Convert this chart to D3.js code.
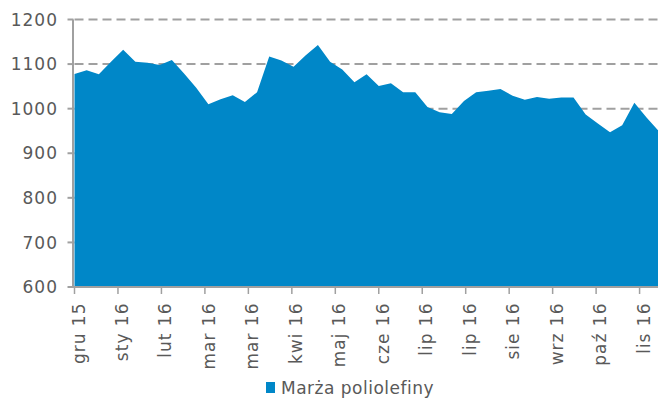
<!DOCTYPE html>
<html lang="pl">
<head>
    <meta charset="UTF-8">
    <title>Marża poliolefiny</title>
    <script src="https://cdnjs.cloudflare.com/ajax/libs/d3/7.8.5/d3.min.js"></script>
    <style>
        body {
            margin: 0;
            padding: 0;
            background-color: white;
        }
        svg {
            display: block;
            font-family: "DejaVu Sans", Verdana, sans-serif;
        }
        .tick-label {
            font-size: 17px;
            fill: #595959;
            letter-spacing: 1px;
        }
        .legend-label {
            font-size: 17px;
            fill: #595959;
            letter-spacing: 0.5px;
        }
    </style>
</head>
<body>
    <svg id="chart" width="658" height="401"></svg>

    <script>
        // weekly readings, day offset from the first tick (17 Dec 2015)
        const days = d3.range(0, 337, 7);
        const values = [
            1078, 1086, 1077, 1105, 1132, 1105, 1103, 1098, 1109, 1079,
            1047, 1010, 1021, 1030, 1015, 1037, 1117, 1108, 1094, 1120,
            1143, 1105, 1088, 1059, 1077, 1051, 1057, 1037, 1037, 1004,
            992, 988, 1017, 1037, 1040, 1044, 1029, 1020, 1026, 1022,
            1025, 1025, 987, 967, 947, 963, 1013, 980, 950
        ];
        const tickLabels = [
            "gru 15", "sty 16", "lut 16", "mar 16", "mar 16", "kwi 16", "maj 16",
            "cze 16", "lip 16", "lip 16", "sie 16", "wrz 16", "paź 16", "lis 16"
        ];
        const tickEvery = 25; // days between axis ticks
        const yTicks = [600, 700, 800, 900, 1000, 1100, 1200];
        const seriesName = "Marża poliolefiny";

        const data = days.map((d, i) => ({ day: d, value: values[i] }));

        const plot = { left: 74.5, right: 658.7, top: 19.5, bottom: 287 };
        const axisColor = "#a0a0a0";
        const fillColor = "#0087c8";

        const svg = d3.select("#chart");

        const xScale = d3.scaleLinear()
            .domain([0, 336])
            .range([plot.left, plot.right]);

        const yScale = d3.scaleLinear()
            .domain([600, 1200])
            .range([plot.bottom, plot.top]);

        // dashed gridlines
        svg.append("g")
            .selectAll("line")
            .data(yTicks.filter(v => v > 600))
            .enter()
            .append("line")
            .attr("x1", plot.left)
            .attr("x2", 658)
            .attr("y1", d => yScale(d))
            .attr("y2", d => yScale(d))
            .style("stroke", axisColor)
            .style("stroke-width", 2)
            .style("stroke-dasharray", "9 5");

        // area
        const area = d3.area()
            .x(d => xScale(d.day))
            .y0(yScale(600))
            .y1(d => yScale(d.value));

        svg.append("path")
            .datum(data)
            .attr("d", area)
            .style("fill", fillColor);

        // y axis
        const yAxis = svg.append("g");
        yAxis.append("line")
            .attr("x1", plot.left - 1.5)
            .attr("x2", plot.left - 1.5)
            .attr("y1", plot.top)
            .attr("y2", plot.bottom + 1)
            .style("stroke", axisColor)
            .style("stroke-width", 2);

        yAxis.selectAll("line.tick")
            .data(yTicks)
            .enter()
            .append("line")
            .attr("class", "tick")
            .attr("x1", plot.left - 7)
            .attr("x2", plot.left - 1)
            .attr("y1", d => yScale(d))
            .attr("y2", d => yScale(d))
            .style("stroke", axisColor)
            .style("stroke-width", 2);

        yAxis.selectAll("text")
            .data(yTicks)
            .enter()
            .append("text")
            .attr("class", "tick-label")
            .attr("x", 58)
            .attr("y", d => yScale(d))
            .attr("dy", "0.36em")
            .attr("text-anchor", "end")
            .text(d => d);

        // x axis
        const xAxis = svg.append("g");
        xAxis.append("line")
            .attr("x1", plot.left - 2.5)
            .attr("x2", 658)
            .attr("y1", plot.bottom)
            .attr("y2", plot.bottom)
            .style("stroke", axisColor)
            .style("stroke-width", 2);

        xAxis.selectAll("line.tick")
            .data(tickLabels)
            .enter()
            .append("line")
            .attr("class", "tick")
            .attr("x1", (d, i) => xScale(i * tickEvery))
            .attr("x2", (d, i) => xScale(i * tickEvery))
            .attr("y1", plot.bottom)
            .attr("y2", plot.bottom + 7)
            .style("stroke", axisColor)
            .style("stroke-width", 1.5);

        xAxis.selectAll("text")
            .data(tickLabels)
            .enter()
            .append("text")
            .attr("class", "tick-label")
            .attr("transform", (d, i) => `translate(${xScale(i * tickEvery) + 10},302.5) rotate(-90)`)
            .attr("text-anchor", "end")
            .text(d => d);

        // legend
        const legend = svg.append("g");
        legend.append("rect")
            .attr("x", 266)
            .attr("y", 382)
            .attr("width", 9)
            .attr("height", 11)
            .style("fill", fillColor);
        legend.append("text")
            .attr("class", "legend-label")
            .attr("x", 281)
            .attr("y", 393.5)
            .text(seriesName);
    </script>
</body>
</html>
